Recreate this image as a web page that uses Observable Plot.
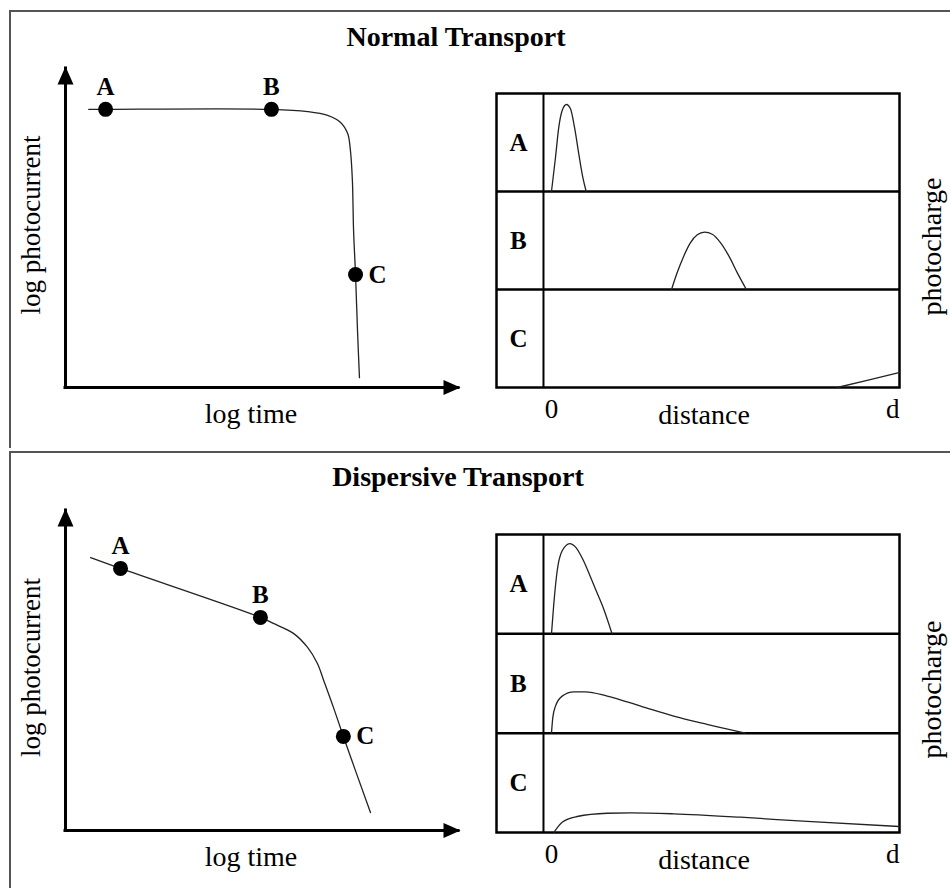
<!DOCTYPE html>
<html>
<head>
<meta charset="utf-8">
<script src="https://cdn.jsdelivr.net/npm/d3@7"></script>
<script src="https://cdn.jsdelivr.net/npm/@observablehq/plot@0.6"></script>
<style>
html, body { margin: 0; padding: 0; background: #fff; }
#root { position: relative; width: 950px; height: 888px; overflow: hidden;
  font-family: "Liberation Serif", "Times New Roman", serif; color: #000; }
.panel { position: absolute; left: 9px; box-sizing: border-box;
  border-top: 2px solid #555; border-left: 2px solid #555; }
.title { position: absolute; left: 0; font-weight: bold; font-size: 28px; line-height: 28px;
  text-align: center; white-space: nowrap; }
</style>
</head>
<body>
<div id="root">
  <div class="panel" style="top:10px;width:941px;height:438px"></div>
  <div class="panel" style="top:451px;width:941px;height:437px"></div>
  <div class="title" style="top:23px;width:912px">Normal Transport</div>
  <div class="title" style="top:463px;width:916px">Dispersive Transport</div>
</div>
<script>
// ---------- data ----------
const pointLabels = ["A", "B", "C"];

// Normal transport: log photocurrent vs log time
const normalLogTime    = [0.59, 1.02, 5.24, 6.16, 6.67, 7.00, 7.18, 7.25, 7.30, 7.33, 7.38, 7.43, 7.48];
const normalLogCurrent = [8.72, 8.72, 8.72, 8.65, 8.53, 8.31, 7.96, 7.43, 6.49, 4.92, 3.54, 1.79, 0.31];
const normalPointTime    = [1.02, 5.24, 7.38];
const normalPointCurrent = [8.72, 8.72, 3.54];

// Dispersive transport: log photocurrent vs log time
const dispersiveLogTime    = [0.64, 1.40, 4.96, 5.29, 5.80, 6.16, 6.41, 6.57, 6.82, 7.07, 7.76];
const dispersiveLogCurrent = [8.53, 8.19, 6.66, 6.47, 6.16, 5.72, 5.22, 4.69, 3.84, 2.94, 0.56];
const dispersivePointTime    = [1.40, 4.96, 7.07];
const dispersivePointCurrent = [8.19, 6.66, 2.94];

// Photocharge profiles (distance as fraction of d, charge as fraction of row height)
const rows = ["A", "B", "C"];
const normalA_distance = [0, 0.0115, 0.0210, 0.0307, 0.0431, 0.0546, 0.0661, 0.0784, 0.0899, 0.0997];
const normalA_charge   = [0, 0.347, 0.656, 0.827, 0.888, 0.844, 0.656, 0.385, 0.146, 0];
const normalB_distance = [0.345, 0.361, 0.380, 0.399, 0.419, 0.440, 0.462, 0.486, 0.510, 0.534, 0.560];
const normalB_charge   = [0, 0.170, 0.340, 0.476, 0.558, 0.585, 0.564, 0.476, 0.340, 0.170, 0];
const normalC_distance = [0.821, 0.907, 1.0];
const normalC_charge   = [0, 0.072, 0.152];

const dispersiveA_distance = [0, 0.0066, 0.0164, 0.0307, 0.0526, 0.070, 0.090, 0.110, 0.130, 0.150, 0.174];
const dispersiveA_charge   = [0, 0.299, 0.635, 0.836, 0.909, 0.870, 0.750, 0.590, 0.420, 0.250, 0];
const dispersiveB_distance = [0, 0.0037, 0.0115, 0.0307, 0.0641, 0.0977, 0.160, 0.256, 0.351, 0.447, 0.557];
const dispersiveB_charge   = [0, 0.154, 0.272, 0.373, 0.416, 0.416, 0.373, 0.272, 0.171, 0.088, 0];
const dispersiveC_distance = [0.0066, 0.0307, 0.0738, 0.160, 0.227, 0.351, 0.543, 0.735, 1.0];
const dispersiveC_charge   = [0, 0.104, 0.161, 0.194, 0.198, 0.188, 0.154, 0.111, 0.060];

const distanceTicks = [0, 1];
const distanceTickLabels = ["0", "d"];

// ---------- helpers ----------
const FONT = "'Liberation Serif', 'Times New Roman', serif";
const arrowUp = { draw(ctx) { ctx.moveTo(0, -2); ctx.lineTo(8, 16); ctx.lineTo(-8, 16); ctx.closePath(); } };
const arrowRight = { draw(ctx) { ctx.moveTo(2, 0); ctx.lineTo(-15, -7.5); ctx.lineTo(-15, 7.5); ctx.closePath(); } };

function decayPlot(times, currents, ptTimes, ptCurrents, marginTop, marginBottom) {
  const curve = times.map((t, i) => ({t, c: currents[i]}));
  const pts = pointLabels.map((label, i) => ({label, t: ptTimes[i], c: ptCurrents[i]}));
  return Plot.plot({
    width: 480, height: 440,
    marginLeft: 65, marginRight: 22, marginTop, marginBottom,
    x: {domain: [0, 10], axis: null},
    y: {domain: [0, 10], axis: null},
    style: {fontFamily: FONT, fontSize: "28px", background: "transparent", overflow: "visible", color: "#000"},
    marks: [
      Plot.ruleY([0], {x1: 0, x2: 10, stroke: "#000", strokeWidth: 3, strokeLinecap: "square"}),
      Plot.ruleX([0], {y1: 0, y2: 10, stroke: "#000", strokeWidth: 3, strokeLinecap: "square"}),
      Plot.dot([0], {x: () => 10, y: () => 0, symbol: arrowRight, fill: "#000"}),
      Plot.dot([0], {x: () => 0, y: () => 10, symbol: arrowUp, fill: "#000"}),
      Plot.line(curve, {x: "t", y: "c", curve: "catmull-rom", stroke: "#222", strokeWidth: 1.3}),
      Plot.dot(pts, {x: "t", y: "c", r: 7.5, fill: "#000"}),
      Plot.text(pts.slice(0, 2), {x: "t", y: "c", text: "label", dy: -22, lineAnchor: "middle", fontWeight: "bold", fontSize: 25}),
      Plot.text(pts.slice(2), {x: "t", y: "c", text: "label", dx: 13, textAnchor: "start", lineAnchor: "middle", fontWeight: "bold", fontSize: 25}),
      Plot.text(["log time"], {frameAnchor: "bottom", textAnchor: "middle", lineAnchor: "middle", dx: -11, dy: 27, fontSize: 28}),
      Plot.text(["log photocurrent"], {frameAnchor: "left", textAnchor: "middle", lineAnchor: "middle", rotate: -90, dx: -34, dy: -3, fontSize: 27})
    ]
  });
}

function profilePlot(series, marginTop, marginBottom) {
  const data = series.flatMap(([dist, charge], i) =>
    dist.map((d, j) => ({row: rows[i], d, y: rows.length - 1 - i + charge[j]})));
  return Plot.plot({
    width: 470, height: 440,
    marginLeft: 16, marginRight: 51, marginTop, marginBottom,
    x: {domain: [-0.158, 1], axis: null},
    y: {domain: [0, 3], axis: null},
    style: {fontFamily: FONT, fontSize: "28px", background: "transparent", overflow: "visible", color: "#000"},
    marks: [
      Plot.ruleX([-0.023], {stroke: "#000", strokeWidth: 2}),
      Plot.ruleY([1, 2], {stroke: "#000", strokeWidth: 2.5}),
      Plot.frame({stroke: "#000", strokeWidth: 2.5}),
      Plot.line(data, {x: "d", y: "y", z: "row", curve: "monotone-x", stroke: "#222", strokeWidth: 1.3}),
      Plot.text(rows, {x: () => -0.095, y: (r, i) => rows.length - 1 - i + 0.5, text: (r) => r, lineAnchor: "middle", fontWeight: "bold", fontSize: 25}),
      Plot.text([distanceTicks[0]], {x: (d) => d, text: () => distanceTickLabels[0], frameAnchor: "bottom", lineAnchor: "middle", textAnchor: "middle", dy: 22, fontSize: 27}),
      Plot.text([distanceTicks[1]], {x: (d) => d, text: () => distanceTickLabels[1], frameAnchor: "bottom", lineAnchor: "middle", textAnchor: "end", dy: 22, fontSize: 27}),
      Plot.text(["distance"], {frameAnchor: "bottom", textAnchor: "middle", lineAnchor: "middle", dx: 6, dy: 28, fontSize: 28}),
      Plot.text(["photocharge"], {frameAnchor: "right", textAnchor: "middle", lineAnchor: "middle", rotate: -90, dx: 33, dy: 6, fontSize: 28})
    ]
  });
}

function place(svg, left, top) {
  svg.style.position = "absolute";
  svg.style.left = left + "px";
  svg.style.top = top + "px";
  svg.style.maxWidth = "none";
  document.getElementById("root").appendChild(svg);
}

place(decayPlot(normalLogTime, normalLogCurrent, normalPointTime, normalPointCurrent, 68, 53), 0, 0);
place(profilePlot([[normalA_distance, normalA_charge], [normalB_distance, normalB_charge], [normalC_distance, normalC_charge]], 93, 53), 480, 0);
place(decayPlot(dispersiveLogTime, dispersiveLogCurrent, dispersivePointTime, dispersivePointCurrent, 69, 51), 0, 441);
place(profilePlot([[dispersiveA_distance, dispersiveA_charge], [dispersiveB_distance, dispersiveB_charge], [dispersiveC_distance, dispersiveC_charge]], 93, 49), 480, 441);
</script>
</body>
</html>
